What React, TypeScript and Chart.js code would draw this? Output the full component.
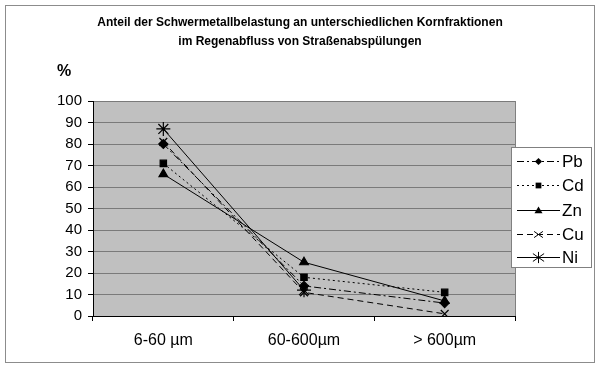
import React, { useEffect, useRef } from "react";
import { Chart, registerables } from "chart.js";

Chart.register(...registerables);

const categories = ["6-60 µm", "60-600µm", "> 600µm"];
const pb = [80, 14, 6];
const cd = [71, 18, 11];
const zn = [66, 25, 7];
const cu = [81, 11, 1];
const ni = [87, 12, null];
const titleLines = [
  "Anteil der Schwermetallbelastung an unterschiedlichen Kornfraktionen",
  "im Regenabfluss von Straßenabspülungen",
];
const yUnit = "%";

const FONT = "Arial, 'Liberation Sans', sans-serif";

function drawMarker(ctx: CanvasRenderingContext2D, style: string, x: number, y: number, r0: number) {
  const r = r0 * 0.8;
  ctx.fillStyle = "#000";
  ctx.strokeStyle = "#000";
  ctx.lineWidth = 1;
  ctx.beginPath();
  if (style === "rectRot") {
    ctx.moveTo(x, y - r);
    ctx.lineTo(x + r, y);
    ctx.lineTo(x, y + r);
    ctx.lineTo(x - r, y);
    ctx.closePath();
    ctx.fill();
  } else if (style === "rect") {
    ctx.rect(x - r * 0.8, y - r * 0.8, r * 1.6, r * 1.6);
    ctx.fill();
  } else if (style === "triangle") {
    ctx.moveTo(x, y - r);
    ctx.lineTo(x + r, y + r * 0.7);
    ctx.lineTo(x - r, y + r * 0.7);
    ctx.closePath();
    ctx.fill();
  } else if (style === "crossRot") {
    ctx.moveTo(x - r, y - r * 0.7);
    ctx.lineTo(x + r, y + r * 0.7);
    ctx.moveTo(x + r, y - r * 0.7);
    ctx.lineTo(x - r, y + r * 0.7);
    ctx.stroke();
  } else if (style === "star") {
    ctx.moveTo(x, y - r);
    ctx.lineTo(x, y + r);
    ctx.moveTo(x - r, y - r * 0.7);
    ctx.lineTo(x + r, y + r * 0.7);
    ctx.moveTo(x + r, y - r * 0.7);
    ctx.lineTo(x - r, y + r * 0.7);
    ctx.stroke();
  }
}

const decorPlugin = {
  id: "decor",
  beforeDraw(chart: any) {
    const { ctx, chartArea } = chart;
    ctx.save();
    ctx.fillStyle = "#ffffff";
    ctx.fillRect(0, 0, chart.width, chart.height);
    ctx.strokeStyle = "#8c8c8c";
    ctx.lineWidth = 1;
    ctx.strokeRect(5.5, 5.5, 589, 357);
    ctx.fillStyle = "#c0c0c0";
    ctx.fillRect(chartArea.left, chartArea.top, chartArea.right - chartArea.left, chartArea.bottom - chartArea.top);
    ctx.fillStyle = "#000";
    ctx.textAlign = "center";
    ctx.textBaseline = "middle";
    ctx.font = `bold 12px ${FONT}`;
    ctx.fillText(titleLines[0], 300, 23);
    ctx.fillText(titleLines[1], 300, 42);
    ctx.font = `bold 16px ${FONT}`;
    ctx.fillText(yUnit, 64, 72);
    ctx.restore();
  },
  afterDatasetsDraw(chart: any) {
    const { ctx, chartArea } = chart;
    ctx.save();
    ctx.strokeStyle = "#808080";
    ctx.lineWidth = 1;
    ctx.beginPath();
    ctx.moveTo(Math.round(chartArea.right) + 0.5, chartArea.top);
    ctx.lineTo(Math.round(chartArea.right) + 0.5, chartArea.bottom);
    ctx.stroke();
    const lx = 511.5, ly = 147.5, lw = 80, lh = 120;
    ctx.fillStyle = "#fff";
    ctx.fillRect(lx, ly, lw, lh);
    ctx.strokeStyle = "#808080";
    ctx.strokeRect(lx, ly, lw, lh);
    const rows = [161, 185, 210, 234, 257];
    chart.data.datasets.forEach((ds: any, i: number) => {
      const y = rows[i];
      ctx.strokeStyle = "#000";
      ctx.lineWidth = 1;
      ctx.setLineDash(ds.borderDash || []);
      ctx.beginPath();
      ctx.moveTo(517, y + 0.5);
      ctx.lineTo(560, y + 0.5);
      ctx.stroke();
      ctx.setLineDash([]);
      drawMarker(ctx, ds.pointStyle, 538.5, y + 0.5, ds.pointRadius);
      ctx.fillStyle = "#000";
      ctx.font = `17px ${FONT}`;
      ctx.textAlign = "left";
      ctx.textBaseline = "middle";
      ctx.fillText(ds.label, 562, y + 1);
    });
    ctx.restore();
  },
};

export default function App() {
  const ref = useRef<HTMLCanvasElement | null>(null);
  useEffect(() => {
    document.body.style.margin = "0";
    const mk = (label: string, data: any[], pointStyle: string, borderDash: number[], radius: number) => ({
      label,
      data,
      pointStyle,
      borderDash,
      borderColor: "#000",
      backgroundColor: "#000",
      pointBackgroundColor: "#000",
      pointBorderColor: "#000",
      pointBorderWidth: 1.2,
      borderWidth: 1,
      pointRadius: radius,
      tension: 0,
      fill: false,
      spanGaps: false,
    });
    const chart = new Chart(ref.current as HTMLCanvasElement, {
      type: "line",
      data: {
        labels: categories,
        datasets: [
          mk("Pb", pb, "rectRot", [7, 3, 2, 3], 4.5),
          mk("Cd", cd, "rect", [2, 3], 4.5),
          mk("Zn", zn, "triangle", [], 5),
          mk("Cu", cu, "crossRot", [6, 4], 5.5),
          mk("Ni", ni, "star", [], 7),
        ],
      },
      plugins: [decorPlugin],
      options: {
        animation: false,
        responsive: false,
        devicePixelRatio: 1,
        layout: { padding: { top: 101, left: 0, right: 85, bottom: 0 } },
        plugins: { legend: { display: false }, title: { display: false }, tooltip: { enabled: false } },
        scales: {
          x: {
            type: "category",
            offset: true,
            grid: { offset: true, drawOnChartArea: false, drawTicks: true, tickLength: 5, tickColor: "#000" },
            border: { color: "#000", width: 1 },
            ticks: { color: "#000", font: { family: FONT, size: 16 }, padding: 10 },
            afterFit: (s: any) => { s.height = 57; },
          },
          y: {
            min: 0,
            max: 100,
            ticks: { stepSize: 10, color: "#000", font: { family: FONT, size: 15 }, padding: 6 },
            grid: { color: "#7a7a7a", tickColor: "#000", tickLength: 5, lineWidth: 1 },
            border: { color: "#000", width: 1 },
            afterFit: (s: any) => { s.width = 93; },
          },
        },
      } as any,
    });
    return () => chart.destroy();
  }, []);
  return <canvas ref={ref} width={600} height={373} style={{ display: "block", width: 600, height: 373 }} />;
}
